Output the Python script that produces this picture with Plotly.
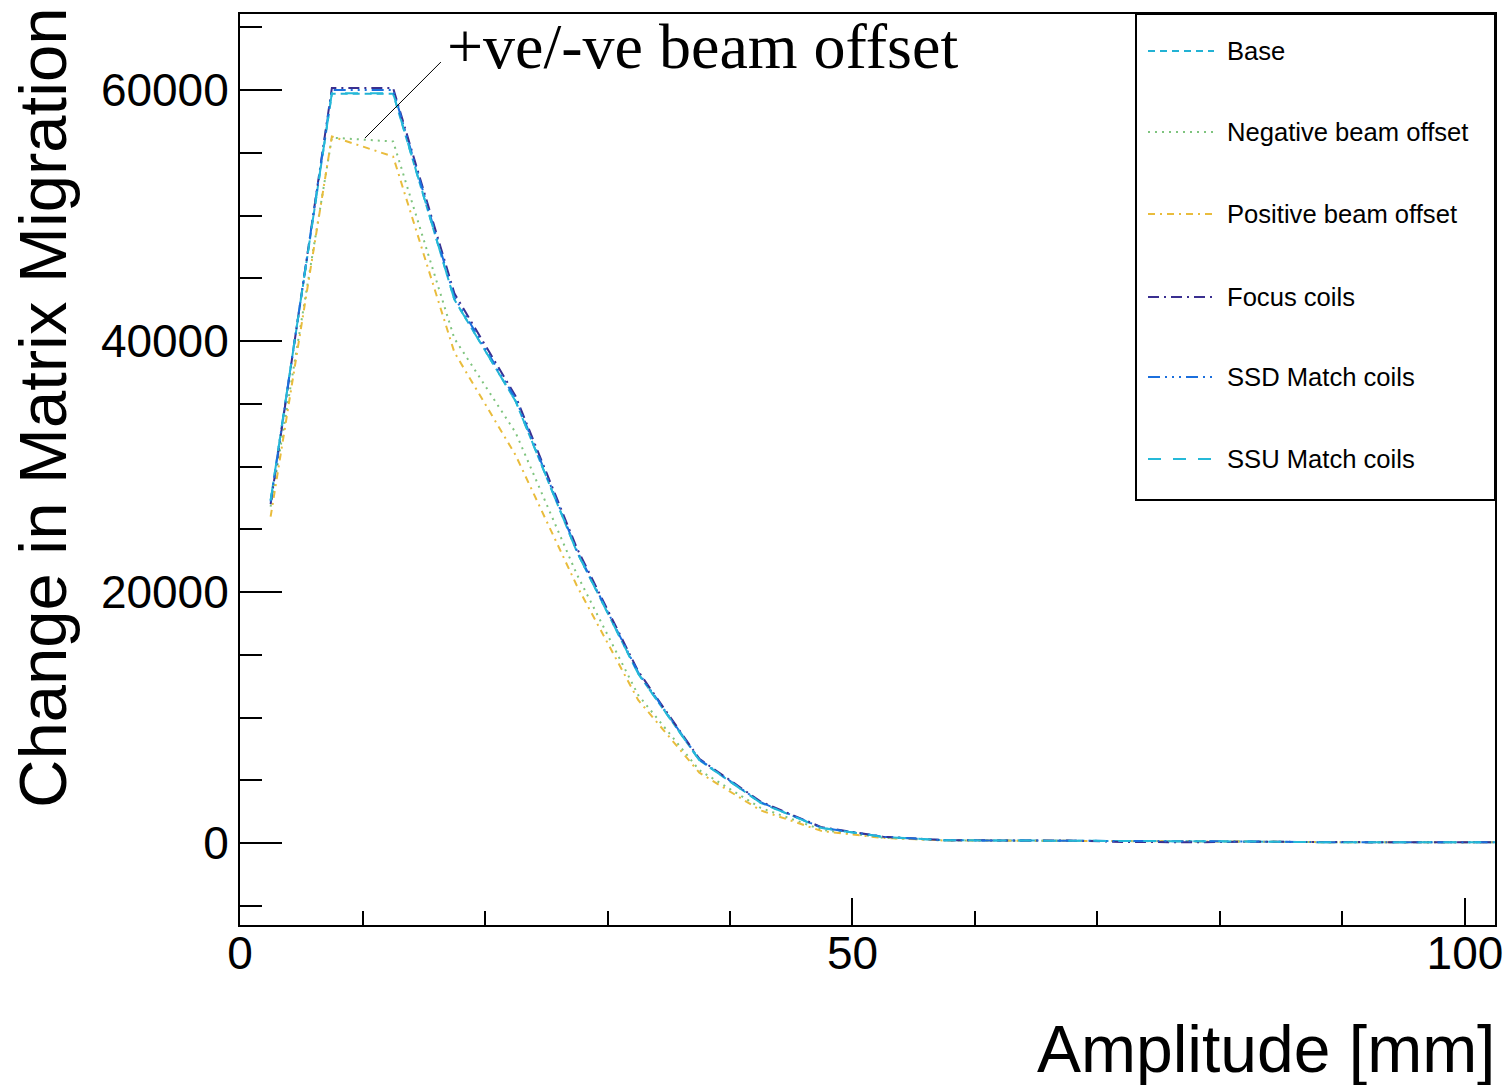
import plotly.graph_objects as go

# Amplitude bin centres [mm]
amplitude = [2.5, 7.5, 12.5, 17.5, 22.5, 27.5, 32.5, 37.5, 42.5, 47.5, 52.5,
             57.5, 62.5, 67.5, 72.5, 77.5, 82.5, 87.5, 92.5, 97.5, 102.5]

# Change in matrix migration for each configuration
base = [27300, 59700, 59700, 43300, 35200, 23200, 13500, 6600, 3200, 1200, 480,
        220, 200, 190, 170, 160, 120, 70, 60, 50, 50]
negative_offset = [26800, 56200, 55900, 40200, 32700, 21400, 11800, 5800, 2800, 1050, 420,
                   200, 190, 180, 160, 150, 110, 70, 60, 50, 50]
positive_offset = [26000, 56300, 54700, 39100, 30900, 20500, 11400, 5600, 2600, 950, 400,
                   200, 190, 180, 160, 150, 110, 70, 60, 50, 50]
focus_coils = [27000, 60150, 60150, 43800, 35600, 23500, 13700, 6700, 3300, 1250, 500,
               230, 200, 190, 80, 60, 100, 70, 60, 50, 50]
ssd_match = [27200, 60000, 60000, 43500, 35400, 23300, 13600, 6650, 3250, 1220, 490,
             220, 200, 190, 170, 130, 120, 70, 60, 50, 50]
ssu_match = [27300, 59750, 59750, 43300, 35200, 23200, 13500, 6600, 3200, 1200, 480,
             220, 200, 190, 170, 160, 120, 70, 60, 50, 50]

series_names = ["Base", "Negative beam offset", "Positive beam offset",
                "Focus coils", "SSD Match coils", "SSU Match coils"]
series_values = [base, negative_offset, positive_offset, focus_coils, ssd_match, ssu_match]

colors = ["#22b2d4", "#7ec47e", "#e9bc3c", "#3a2f90", "#1b6fdd", "#25b9d8"]
dashes = ["7px,5px", "2px,5px", "7px,5px,2px,5px", "11px,5px,2px,5px",
          "12px,5px,2px,5px,2px,5px,2px,5px", "13px,12px"]

X_RANGE = [0, 102.45]
Y_RANGE = [-6534, 66056]

# Plot-area geometry in pixels (for placing legend/labels in paper coordinates)
FIG_W, FIG_H = 1503, 1085
L, R, T, B = 240, 8, 14, 160
PW, PH = FIG_W - L - R, FIG_H - T - B


def px_x(px):
    return (px - L) / PW


def px_y(py):
    return (FIG_H - B - py) / PH


fig = go.Figure()
for name, vals, col, dsh in zip(series_names, series_values, colors, dashes):
    fig.add_trace(go.Scatter(
        x=amplitude, y=vals, mode="lines", name=name,
        line=dict(color=col, width=2, dash=dsh),
        showlegend=False, cliponaxis=True,
    ))

shapes = []
annotations = []

# Legend box
shapes.append(dict(type="rect", xref="paper", yref="paper",
                   x0=px_x(1136), x1=px_x(1495), y0=px_y(500), y1=px_y(14),
                   line=dict(color="black", width=2), fillcolor="white", layer="above"))
legend_y = [51, 132, 214, 297, 377, 459]
for name, col, dsh, ly in zip(series_names, colors, dashes, legend_y):
    shapes.append(dict(type="line", xref="paper", yref="paper",
                       x0=px_x(1148), x1=px_x(1214), y0=px_y(ly), y1=px_y(ly),
                       line=dict(color=col, width=2, dash=dsh), layer="above"))
    annotations.append(dict(xref="paper", yref="paper", x=px_x(1225), y=px_y(ly),
                            xanchor="left", yanchor="middle", showarrow=False,
                            text=name, font=dict(family="Liberation Sans", size=25.6, color="black")))

# Callout pointing at the beam offset curves
shapes.append(dict(type="line", xref="x", yref="y",
                   x0=10.2, y0=56170, x1=16.4, y1=62230,
                   line=dict(color="black", width=1)))
annotations.append(dict(xref="x", yref="y", x=16.7, y=63430,
                        xanchor="left", yanchor="middle", showarrow=False,
                        text="+ve/-ve beam offset",
                        font=dict(family="Liberation Serif", size=64, color="black")))

# Axis titles
annotations.append(dict(xref="paper", yref="paper", x=px_x(1497), y=px_y(1049),
                        xanchor="right", yanchor="middle", showarrow=False,
                        text="Amplitude [mm]",
                        font=dict(family="Liberation Sans", size=66, color="black")))
annotations.append(dict(xref="paper", yref="paper", x=px_x(42), y=px_y(408),
                        xanchor="center", yanchor="middle", showarrow=False, textangle=-90,
                        text="Change in Matrix Migration",
                        font=dict(family="Liberation Sans", size=67, color="black")))

fig.update_layout(
    width=FIG_W, height=FIG_H,
    margin=dict(l=L, r=R, t=T, b=B, pad=0, autoexpand=False),
    paper_bgcolor="white", plot_bgcolor="white",
    shapes=shapes, annotations=annotations,
    font=dict(family="Liberation Sans", color="black"),
    xaxis=dict(
        range=X_RANGE, showgrid=False, zeroline=False, automargin=False,
        showline=True, linecolor="black", linewidth=2, mirror=True,
        ticks="inside", ticklen=27, tickwidth=2, tickcolor="black",
        tick0=0, dtick=50, tickfont=dict(size=46, family="Liberation Sans"),
        ticklabelstandoff=-13, ticklabeloverflow="allow",
        minor=dict(ticks="inside", ticklen=14, tickwidth=2, tickcolor="black", dtick=10, tick0=0),
    ),
    yaxis=dict(
        range=Y_RANGE, showgrid=False, zeroline=False, automargin=False,
        showline=True, linecolor="black", linewidth=2, mirror=True,
        ticks="inside", ticklen=42, tickwidth=2, tickcolor="black",
        tick0=0, dtick=20000, tickformat="d", tickfont=dict(size=46, family="Liberation Sans"),
        ticklabeloverflow="allow",
        minor=dict(ticks="inside", ticklen=22, tickwidth=2, tickcolor="black", dtick=5000, tick0=0),
    ),
)

fig.write_html("out.html")
